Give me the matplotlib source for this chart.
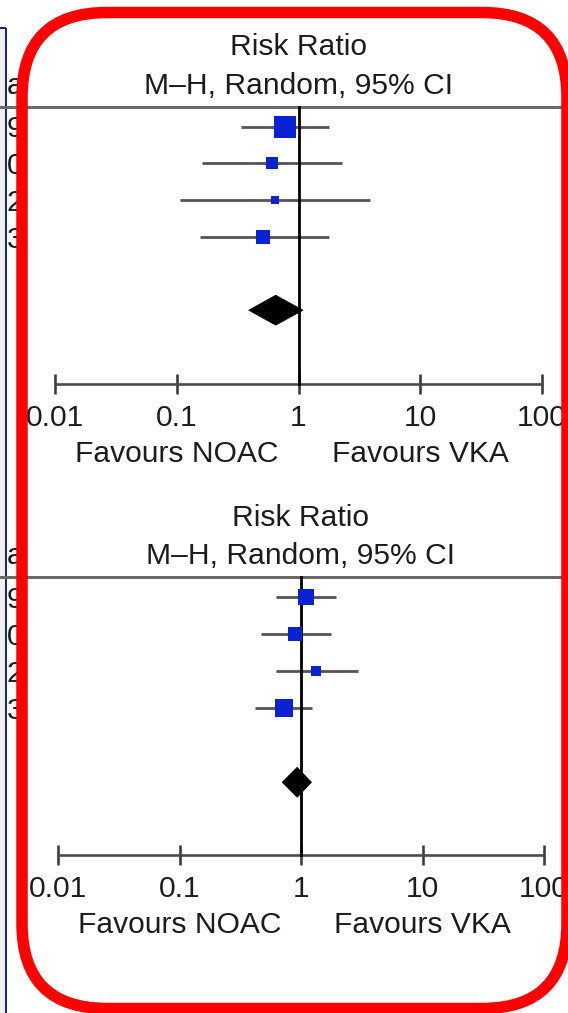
import numpy as np
import matplotlib
matplotlib.use("Agg")
import matplotlib.pyplot as plt
from matplotlib.patches import Polygon, FancyBboxPatch, Rectangle
from matplotlib.ticker import NullLocator

plt.rcParams['font.family'] = ['Liberation Sans', 'DejaVu Sans']

# data (risk ratios, 95% CI, weights)
top_rr = [0.78, 0.61, 0.64, 0.51]
top_lo = [0.34, 0.16, 0.106, 0.155]
top_hi = [1.77, 2.29, 3.9, 1.77]
top_w = [55.4, 16.5, 5.6, 22.5]
top_pool = [0.65, 0.39, 1.09]

bot_rr = [1.10, 0.89, 1.32, 0.73]
bot_lo = [0.62, 0.47, 0.62, 0.42]
bot_hi = [1.95, 1.77, 2.97, 1.23]
bot_w = [31.1, 23.8, 9.9, 35.2]
bot_pool = [0.93, 0.70, 1.22]

ticks = [0.01, 0.1, 1, 10, 100]
tick_labels = ['0.01', '0.1', '1', '10', '100']
title1 = 'Risk Ratio'
title2 = 'M\u2013H, Random, 95% CI'
fav_left = 'Favours NOAC'
fav_right = 'Favours VKA'
# what is left of the cropped column on the far left
cut_header = 'a'
cut_rows = ['9', '0', '2', '3']

W, H = 568, 1013
PT = 0.72  # points per pixel at dpi 100
FS = 30 * PT
TXT = '#1c1c1c'

fig = plt.figure(figsize=(W / 100, H / 100), dpi=100)

# background decorations (pixel coordinates)
bg = fig.add_axes([0, 0, 1, 1], zorder=0)
bg.set_xlim(0, W)
bg.set_ylim(H, 0)
bg.axis('off')
bg.add_patch(Rectangle((0, 28), 6, H - 28, facecolor='#efefef', edgecolor='none'))
bg.plot([6, 6], [28, H], color='#1b2a6b', lw=2 * PT, solid_capstyle='butt')
bg.plot([0, 6], [28, 28], color='#1b2a6b', lw=2 * PT, solid_capstyle='butt')


def panel(top_px, bot_px, row0, step, one_px, dec_px, rr, lo, hi, w, pool):
    ax = fig.add_axes([0, 1 - bot_px / H, 1, (bot_px - top_px) / H], zorder=1)
    ax.patch.set_alpha(0)
    ax.set_xscale('log')
    ax.set_xlim(10 ** (-one_px / dec_px), 10 ** ((W - one_px) / dec_px))
    ax.set_ylim(bot_px - row0, top_px - row0)
    for s in ['top', 'left', 'right']:
        ax.spines[s].set_visible(False)
    ax.set_yticks([])

    axis_y = 257.5
    ax.spines['bottom'].set_position(('data', axis_y))
    ax.spines['bottom'].set_bounds(ticks[0], ticks[-1])
    ax.spines['bottom'].set_linewidth(2.6 * PT)
    ax.spines['bottom'].set_color('#4a4a4a')
    ax.set_xticks(ticks)
    ax.set_xticklabels(tick_labels)
    ax.xaxis.set_minor_locator(NullLocator())
    ax.tick_params(axis='x', direction='inout', length=20 * PT, width=2.6 * PT,
                   color='#3a3a3a', labelsize=FS, labelcolor=TXT, pad=7.2)

    # header
    ax.text(1, -71.5, title1, ha='center', va='baseline', fontsize=FS, color=TXT)
    ax.text(1, -33, title2, ha='center', va='baseline', fontsize=FS, color=TXT)
    ax.axhline(-20, color='#6a6a6a', lw=3 * PT)
    ax.text(0.1, 335.5, fav_left, ha='center', va='baseline', fontsize=FS, color=TXT)
    ax.text(10, 335.5, fav_right, ha='center', va='baseline', fontsize=FS, color=TXT)

    # line of no effect
    ax.plot([1, 1], [-20, axis_y], color='black', lw=2.8 * PT, zorder=3)

    ys = np.arange(len(rr)) * step
    ax.hlines(ys, lo, hi, color='#555555', lw=2.8 * PT, zorder=2)
    sizes = 2.96 * np.sqrt(w) * PT
    for x, y, s in zip(rr, ys, sizes):
        ax.plot(x, y, marker='s', markersize=s, color='#0a22d2', mew=0, zorder=4)

    yd = 5 * step
    hd = 15
    est, plo, phi = pool
    ax.add_patch(Polygon([(plo, yd), (est, yd - hd), (phi, yd), (est, yd + hd)],
                         closed=True, facecolor='black', edgecolor='black',
                         lw=0.5, zorder=5))
    return ys + row0


rows_top = panel(0, 478, 126.7, 36.7, 298.5, 121.7,
                 top_rr, top_lo, top_hi, top_w, top_pool)
rows_bot = panel(478, H, 597.3, 37.0, 301.0, 121.5,
                 bot_rr, bot_lo, bot_hi, bot_w, bot_pool)

# cropped left column fragments
for row0, rows in [(126.7, rows_top), (597.3, rows_bot)]:
    bg.text(7, row0 - 33, cut_header, ha='left', va='baseline',
            fontsize=FS, color=TXT)
    for y, lab in zip(rows, cut_rows):
        bg.text(7, y + 10.7, lab, ha='left', va='baseline',
                fontsize=FS, color=TXT)

# red rounded frame on top
ov = fig.add_axes([0, 0, 1, 1], zorder=5)
ov.set_xlim(0, W)
ov.set_ylim(H, 0)
ov.axis('off')
ov.add_patch(FancyBboxPatch((22, 12.5), 567 - 22, 1008.5 - 12.5,
                            boxstyle='round,pad=0,rounding_size=85',
                            facecolor='none', edgecolor='#ff0000', lw=11.5 * PT))

fig.savefig('out.png', dpi=100)
